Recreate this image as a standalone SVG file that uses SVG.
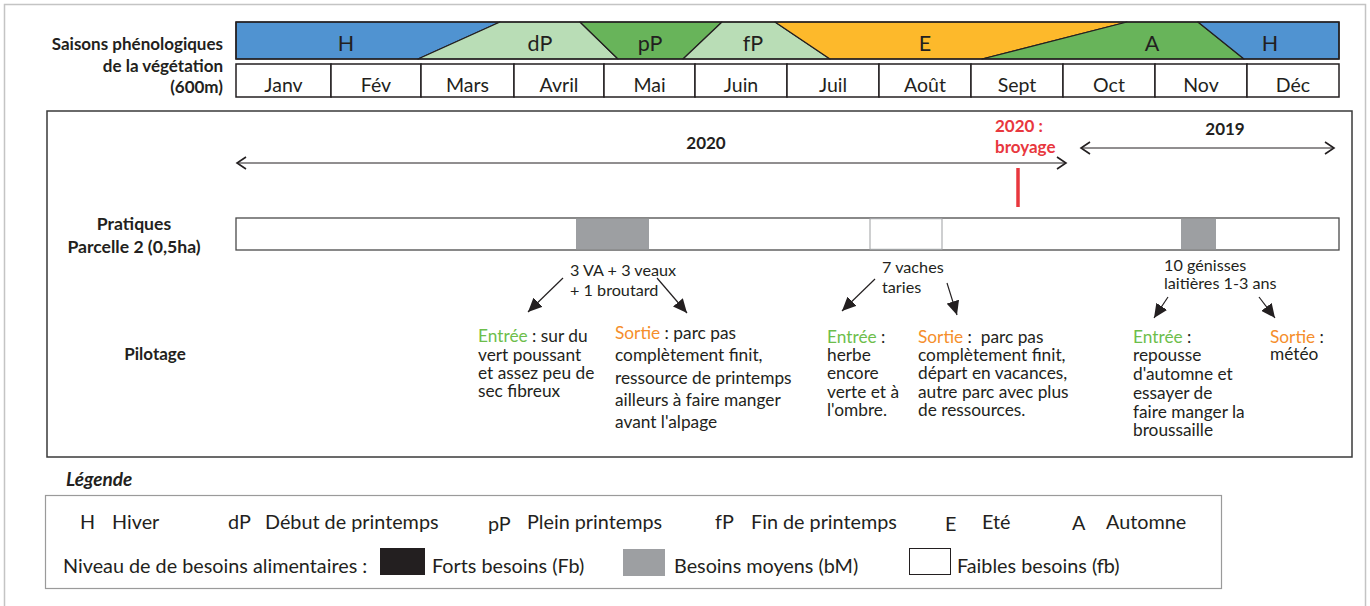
<svg xmlns="http://www.w3.org/2000/svg" width="1370" height="606" viewBox="0 0 1370 606">
<defs>
<style>
text{font-family:Lato,"Open Sans","Liberation Sans",sans-serif;fill:#231F20}
.b{font-weight:bold}
.season{font-size:21.5px;text-anchor:middle}
.month{font-size:19.5px;text-anchor:middle}
.lbl{font-size:17px;font-weight:bold}
.lbl2{font-size:17.6px;font-weight:bold}
.ann{font-size:17.3px}
.grp{font-size:16.2px}
.leg{font-size:19.8px}
.g{fill:#6DBE4B}
.o{fill:#F58E2B}
.red{fill:#E8373E;font-weight:bold;font-size:17px}
.poly{stroke:#231F20;stroke-width:1.2;stroke-linejoin:round}
.cell{fill:#fff;stroke:#231F20;stroke-width:1.5}
.arr{stroke:#231F20;stroke-width:1.2;fill:none}
.yr{stroke:#231F20;stroke-width:1;fill:none}
</style>
<marker id="head" markerUnits="userSpaceOnUse" markerWidth="15" markerHeight="13" refX="14" refY="6.5" orient="auto">
<path d="M0,0 L14,6.5 L0,13 z" fill="#231F20"/>
</marker>
<marker id="chev" markerUnits="userSpaceOnUse" markerWidth="12" markerHeight="14" refX="10" refY="7" orient="auto-start-reverse">
<path d="M1,1 L10,7 L1,13" fill="none" stroke="#231F20" stroke-width="1.6"/>
</marker>
</defs>
<rect x="0" y="0" width="1370" height="606" fill="#fff"/>
<rect x="4.5" y="4.5" width="1361" height="620" fill="none" stroke="#C4C4C4" stroke-width="1.5"/>

<g id="season-labels-title">
<text class="lbl" x="223" y="50" text-anchor="end">Saisons phénologiques</text>
<text class="lbl" x="223" y="72" text-anchor="end">de la végétation</text>
<text class="lbl" x="223" y="93" text-anchor="end">(600m)</text>
</g>

<g id="season-band">
<polygon class="poly" fill="#5093D1" points="236,22 500,22 418,59 236,59"/>
<polygon class="poly" fill="#B9DDB6" points="418,59 500,22 580,22 618,59"/>
<polygon class="poly" fill="#68B45A" points="618,59 580,22 722,22 683,59"/>
<polygon class="poly" fill="#B9DDB6" points="683,59 722,22 775,22 830,59"/>
<polygon class="poly" fill="#FDB92B" points="830,59 775,22 1127,22 982,59"/>
<polygon class="poly" fill="#68B45A" points="982,59 1127,22 1198,22 1244,59"/>
<polygon class="poly" fill="#5093D1" points="1244,59 1198,22 1339,22 1339,59"/>
<rect x="236" y="22" width="1103" height="37" fill="none" stroke="#231F20" stroke-width="1.5"/>
<text class="season" x="346" y="51">H</text>
<text class="season" x="540" y="51">dP</text>
<text class="season" x="650" y="51">pP</text>
<text class="season" x="753" y="51">fP</text>
<text class="season" x="925" y="51">E</text>
<text class="season" x="1152" y="51">A</text>
<text class="season" x="1270" y="51">H</text>
</g>

<g id="months">
<rect class="cell" x="236" y="64" width="95" height="33"/>
<rect class="cell" x="331" y="64" width="90" height="33"/>
<rect class="cell" x="421" y="64" width="93" height="33"/>
<rect class="cell" x="514" y="64" width="90" height="33"/>
<rect class="cell" x="604" y="64" width="91" height="33"/>
<rect class="cell" x="695" y="64" width="92" height="33"/>
<rect class="cell" x="787" y="64" width="92" height="33"/>
<rect class="cell" x="879" y="64" width="92" height="33"/>
<rect class="cell" x="971" y="64" width="92" height="33"/>
<rect class="cell" x="1063" y="64" width="92" height="33"/>
<rect class="cell" x="1155" y="64" width="92" height="33"/>
<rect class="cell" x="1247" y="64" width="92" height="33"/>
<text class="month" x="283.5" y="92">Janv</text>
<text class="month" x="376" y="92">Fév</text>
<text class="month" x="467.5" y="92">Mars</text>
<text class="month" x="559" y="92">Avril</text>
<text class="month" x="649.5" y="92">Mai</text>
<text class="month" x="741" y="92">Juin</text>
<text class="month" x="833" y="92">Juil</text>
<text class="month" x="925" y="92">Août</text>
<text class="month" x="1017" y="92">Sept</text>
<text class="month" x="1109" y="92">Oct</text>
<text class="month" x="1201" y="92">Nov</text>
<text class="month" x="1293" y="92">Déc</text>
</g>

<g id="main-frame">
<rect x="47" y="111" width="1305" height="346" fill="none" stroke="#3A3A3A" stroke-width="1.5"/>
</g>

<g id="years">
<text class="lbl" x="706" y="149" text-anchor="middle">2020</text>
<text class="lbl" x="1225" y="135" text-anchor="middle">2019</text>
<text class="red" x="995" y="132">2020 :</text>
<text class="red" x="995" y="153">broyage</text>
<line x1="1018" y1="168" x2="1018" y2="207" stroke="#E8373E" stroke-width="3.5"/>
</g>

<g id="practices">
<text class="lbl2" x="134" y="230" text-anchor="middle">Pratiques</text>
<text class="lbl2" x="134" y="253" text-anchor="middle">Parcelle 2 (0,5ha)</text>
<rect x="236" y="218" width="1103" height="32" fill="#fff" stroke="#4A4A4A" stroke-width="1.3"/>
<rect x="576" y="218.7" width="73" height="30.6" fill="#9D9FA2"/>
<rect x="870" y="218.7" width="72" height="30.6" fill="#fff" stroke="#9D9FA2" stroke-width="1"/>
<rect x="1181" y="218.7" width="35" height="30.6" fill="#9D9FA2"/>
<text class="lbl" x="155" y="360" text-anchor="middle">Pilotage</text>
</g>

<g id="connectors">
<line class="yr" x1="237" y1="163" x2="1066" y2="163" marker-start="url(#chev)" marker-end="url(#chev)"/>
<line class="yr" x1="1081" y1="148" x2="1334" y2="148" marker-start="url(#chev)" marker-end="url(#chev)"/>
<line class="arr" x1="563" y1="278" x2="528" y2="312" marker-end="url(#head)"/>
<line class="arr" x1="657" y1="278" x2="687" y2="313" marker-end="url(#head)"/>
<line class="arr" x1="875" y1="279" x2="842" y2="311" marker-end="url(#head)"/>
<line class="arr" x1="947" y1="283" x2="957" y2="315" marker-end="url(#head)"/>
<line class="arr" x1="1168" y1="297" x2="1154" y2="318" marker-end="url(#head)"/>
<line class="arr" x1="1259" y1="297" x2="1275" y2="318" marker-end="url(#head)"/>
</g>

<g id="group1">
<text class="grp" x="570" y="276">3 VA + 3 veaux</text>
<text class="grp" x="570" y="296">+ 1 broutard</text>
</g>
<g id="entree1">
<text class="ann" x="478" y="342"><tspan class="g">Entrée</tspan> : sur du</text>
<text class="ann" x="478" y="361">vert poussant</text>
<text class="ann" x="478" y="379">et assez peu de</text>
<text class="ann" x="478" y="397">sec fibreux</text>
</g>
<g id="sortie1">
<text class="ann" x="615" y="339"><tspan class="o">Sortie</tspan> : parc pas</text>
<text class="ann" x="615" y="361">complètement finit,</text>
<text class="ann" x="615" y="384">ressource de printemps</text>
<text class="ann" x="615" y="406">ailleurs à faire manger</text>
<text class="ann" x="615" y="428">avant l'alpage</text>
</g>

<g id="group2">
<text class="grp" x="882" y="273">7 vaches</text>
<text class="grp" x="882" y="293">taries</text>
</g>
<g id="entree2">
<text class="ann" x="827" y="343"><tspan class="g">Entrée</tspan> :</text>
<text class="ann" x="827" y="361">herbe</text>
<text class="ann" x="827" y="379">encore</text>
<text class="ann" x="827" y="398">verte et à</text>
<text class="ann" x="827" y="416">l'ombre.</text>
</g>
<g id="sortie2">
<text class="ann" x="918" y="343" xml:space="preserve"><tspan class="o">Sortie</tspan> :  parc pas</text>
<text class="ann" x="918" y="361">complètement finit,</text>
<text class="ann" x="918" y="379">départ en vacances,</text>
<text class="ann" x="918" y="398">autre parc avec plus</text>
<text class="ann" x="918" y="416">de ressources.</text>
</g>

<g id="group3">
<text class="grp" x="1164" y="271">10 génisses</text>
<text class="grp" x="1164" y="289">laitières 1-3 ans</text>
</g>
<g id="entree3">
<text class="ann" x="1133" y="343"><tspan class="g">Entrée</tspan> :</text>
<text class="ann" x="1133" y="361">repousse</text>
<text class="ann" x="1133" y="380">d'automne et</text>
<text class="ann" x="1133" y="399">essayer de</text>
<text class="ann" x="1133" y="418">faire manger la</text>
<text class="ann" x="1133" y="436">broussaille</text>
</g>
<g id="sortie3">
<text class="ann" x="1270" y="343"><tspan class="o">Sortie</tspan> :</text>
<text class="ann" x="1270" y="360">météo</text>
</g>

<g id="legend">
<text class="b" x="66" y="486" font-size="19px" font-style="italic">Légende</text>
<rect x="45.5" y="495.5" width="1176" height="93" fill="none" stroke="#9A9A9A" stroke-width="1.2"/>
<text class="leg" x="80" y="529">H</text>
<text class="leg" x="112" y="529">Hiver</text>
<text class="leg" x="228" y="529">dP</text>
<text class="leg" x="265" y="529">Début de printemps</text>
<text class="leg" x="488" y="531">pP</text>
<text class="leg" x="527" y="529">Plein printemps</text>
<text class="leg" x="715" y="529">fP</text>
<text class="leg" x="751" y="529">Fin de printemps</text>
<text class="leg" x="945" y="531">E</text>
<text class="leg" x="982" y="529">Eté</text>
<text class="leg" x="1072" y="530">A</text>
<text class="leg" x="1106" y="529">Automne</text>
<text class="leg" x="63" y="573">Niveau de de besoins alimentaires :</text>
<rect x="380" y="548" width="45" height="27" fill="#231F20"/>
<text class="leg" x="432" y="573">Forts besoins (Fb)</text>
<rect x="623" y="549" width="42" height="27" fill="#9D9FA2"/>
<text class="leg" x="674" y="573">Besoins moyens (bM)</text>
<rect x="909.5" y="548.5" width="41" height="26" fill="#fff" stroke="#231F20" stroke-width="1"/>
<text class="leg" x="957" y="573">Faibles besoins (fb)</text>
</g>
</svg>
